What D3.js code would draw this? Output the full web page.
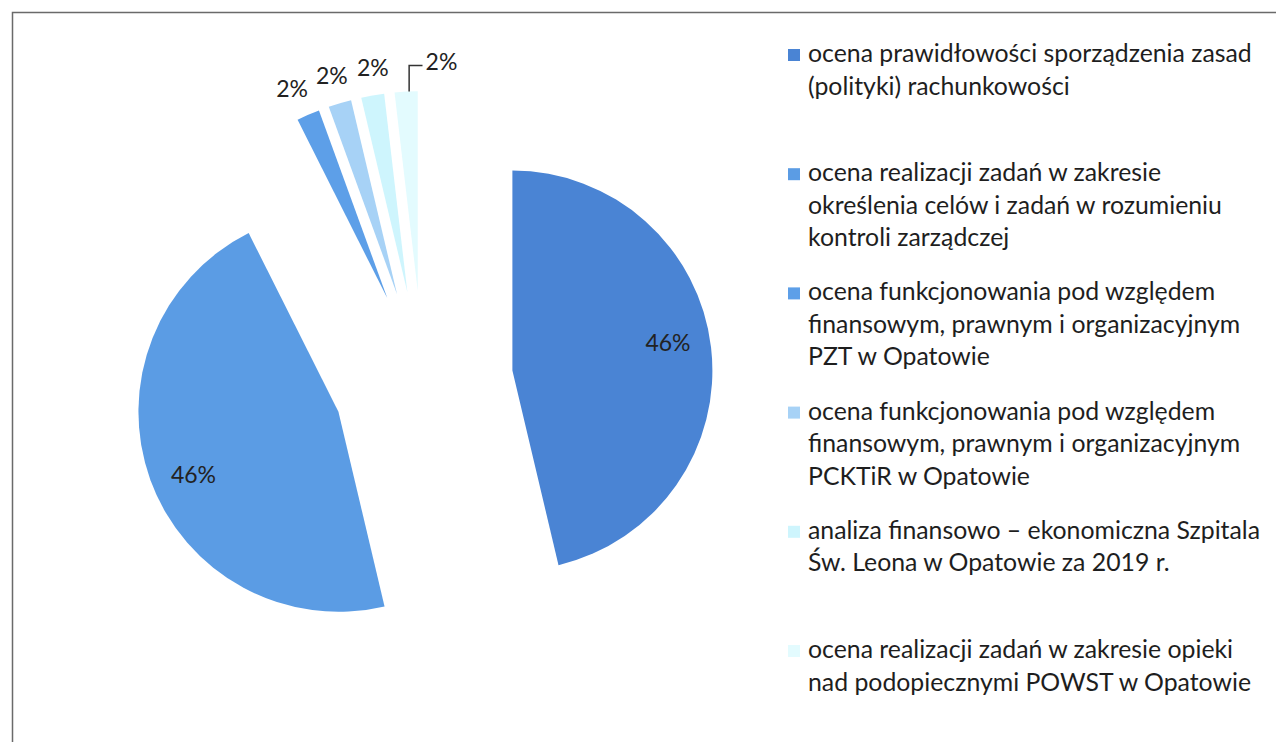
<!DOCTYPE html>
<html><head><meta charset="utf-8">
<script src="https://cdn.jsdelivr.net/npm/d3@7"></script>
<style>
html,body{margin:0;padding:0;background:#fff;}
svg{display:block;font-family:Lato,"Open Sans",sans-serif;}
</style>
</head><body>
<svg id="chart" width="1276" height="742"></svg>
<script>
// ---- data ----
const categoryLines = [
  ["ocena prawidłowości sporządzenia zasad", "(polityki) rachunkowości"],
  ["ocena realizacji zadań w zakresie", "określenia celów i zadań w rozumieniu", "kontroli zarządczej"],
  ["ocena funkcjonowania pod względem", "finansowym, prawnym i organizacyjnym", "PZT w Opatowie"],
  ["ocena funkcjonowania pod względem", "finansowym, prawnym i organizacyjnym", "PCKTiR w Opatowie"],
  ["analiza finansowo – ekonomiczna Szpitala", "Św. Leona w Opatowie za 2019 r."],
  ["ocena realizacji zadań w zakresie opieki", "nad podopiecznymi POWST w Opatowie"]
];
const categories = categoryLines.map(l => l.join(" "));
const values = [25, 25, 1, 1, 1, 1];
const colors = ["#4a84d4", "#5b9ce4", "#5d9fe8", "#a7d2f6", "#cef5fd", "#e3fbfe"];

// ---- layout ----
const svg = d3.select("#chart");
const W = 1276, H = 742;
const cx = 423, cy = 381, R = 200, explode = 90;

// frame (top and left edges visible)
svg.append("path")
  .attr("d", `M${W},12.5 L12.5,12.5 L12.5,${H}`)
  .attr("fill", "none").attr("stroke", "#6a6a6a").attr("stroke-width", 1.5);

const total = d3.sum(values);
const arcs = d3.pie().sort(null).value(d => d)(values);
const arc = d3.arc().innerRadius(0).outerRadius(R);
arcs.forEach(p => {
  const mid = (p.startAngle + p.endAngle) / 2;
  p.mid = mid;
  p.ox = cx + explode * Math.sin(mid);
  p.oy = cy - explode * Math.cos(mid);
});

const gPie = svg.append("g");
gPie.selectAll("path").data(arcs).join("path")
  .attr("transform", d => `translate(${d.ox},${d.oy})`)
  .attr("d", arc)
  .attr("fill", (d, i) => colors[i]);

// labels
const fmt = v => Math.round(v / total * 100) + "%";
const gLab = svg.append("g").attr("font-size", 23).attr("fill", "#222");
const small = arcs.filter(d => d.value / total < 0.1);
arcs.forEach((d, i) => {
  const frac = d.value / total;
  let x, y;
  if (frac >= 0.1) {
    const a = d.mid - 0.06, r = 0.79 * R;
    x = d.ox + r * Math.sin(a); y = d.oy - r * Math.cos(a);
    gLab.append("text").attr("x", x).attr("y", y - 1)
      .attr("text-anchor", "middle").attr("dominant-baseline", "central").text(fmt(d.value));
  } else {
    const j = small.indexOf(d);
    const r = R + 28;
    x = d.ox + r * Math.sin(d.mid) + (j - 1) * 5;
    y = d.oy - r * Math.cos(d.mid) - 1;
    if (j === small.length - 1) {
      // last label moved aside with leader line
      const px = d.ox + R * Math.sin(d.mid) + 3, py = d.oy - R * Math.cos(d.mid);
      const lx = x + 27, ly = y - 2;
      const tw = 30;
      gLab.append("path")
        .attr("d", `M${px},${py} L${px},${ly + 5} L${lx - tw / 2 - 4},${ly + 5}`)
        .attr("fill", "none").attr("stroke", "#333").attr("stroke-width", 1.5);
      x = lx; y = ly;
    }
    gLab.append("text").attr("x", x).attr("y", y)
      .attr("text-anchor", "middle").attr("dominant-baseline", "central").text(fmt(d.value));
  }
});

// legend
const legX = 788, textX = 808, targetW = 444;
const gLeg = svg.append("g").attr("fill", "#1e1e1e");
const probe = gLeg.append("text").attr("font-size", 22).text(categoryLines[0][0]);
const w22 = probe.node().getComputedTextLength();
probe.remove();
const fs = 22 * targetW / w22;
const top0 = 62, entryGap = 119.2, lineGap = 32.5;
categoryLines.forEach((lines, i) => {
  const by = top0 + i * entryGap;
  gLeg.append("rect").attr("x", legX).attr("y", by - 13).attr("width", 12).attr("height", 12)
    .attr("fill", colors[i]);
  const t = gLeg.append("text").attr("x", textX).attr("y", by).attr("font-size", fs);
  lines.forEach((ln, j) => {
    t.append("tspan").attr("x", textX).attr("y", by + j * lineGap).text(ln);
  });
});
</script>
</body></html>
